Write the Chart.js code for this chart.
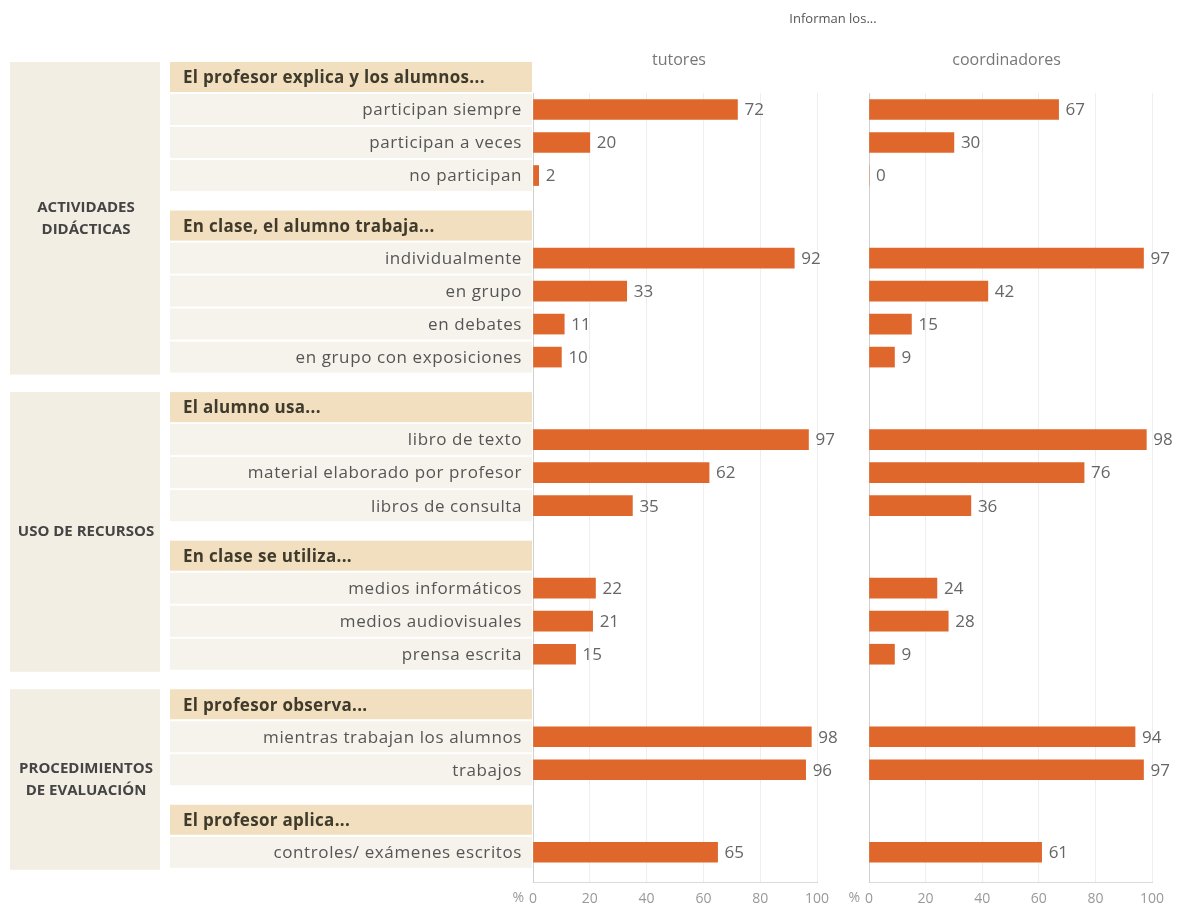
<!DOCTYPE html>
<html><head><meta charset="utf-8">
<script src="https://cdn.jsdelivr.net/npm/chart.js@4.4.1/dist/chart.umd.min.js"></script>
<style>
html,body{margin:0;padding:0;background:#fff;width:1179px;height:911px;overflow:hidden;font-family:'Open Sans',sans-serif}
#wa{position:absolute;left:0;top:0;width:845px;height:911px}
#wb{position:absolute;left:845px;top:0;width:334px;height:911px}
#title{position:absolute;left:733px;width:200px;top:9px;text-align:center;font-size:13px;color:#555}
</style></head><body>
<div id="wa"><canvas id="ca"></canvas></div>
<div id="wb"><canvas id="cb"></canvas></div>
<div id="title">Informan los...</div>
<script>
const sections = ['ACTIVIDADES\nDIDÁCTICAS', 'USO DE RECURSOS', 'PROCEDIMIENTOS\nDE EVALUACIÓN'];
const subheads = ['El profesor explica y los alumnos...', 'En clase, el alumno trabaja...', 'El alumno usa...', 'En clase se utiliza...', 'El profesor observa...', 'El profesor aplica...'];
const subheadSection = [0, 0, 1, 1, 2, 2];
const categories = ['participan siempre', 'participan a veces', 'no participan',
  'individualmente', 'en grupo', 'en debates', 'en grupo con exposiciones',
  'libro de texto', 'material elaborado por profesor', 'libros de consulta',
  'medios informáticos', 'medios audiovisuales', 'prensa escrita',
  'mientras trabajan los alumnos', 'trabajos',
  'controles/ exámenes escritos'];
const categoryGroup = [0, 0, 0, 1, 1, 1, 1, 2, 2, 2, 3, 3, 3, 4, 4, 5];
const tutores = [72, 20, 2, 92, 33, 11, 10, 97, 62, 35, 22, 21, 15, 98, 96, 65];
const coordinadores = [67, 30, 0, 97, 42, 15, 9, 98, 76, 36, 24, 28, 9, 94, 97, 61];
const panelTitles = ['tutores', 'coordinadores'];
const xTickStep = 20;
const xMin = 0, xMax = 100;

// derive row slots from the group structure (header, rows, half-slot gap)
const headerPos = [], rowPos = [];
let p = 0;
subheads.forEach((h, g) => {
  if (g > 0) p += 0.5;
  headerPos.push(p); p += 1;
  categories.forEach((c, i) => { if (categoryGroup[i] === g) { rowPos[i] = p; p += 1; } });
});
const yMin = headerPos[0] + 0.5;
const yMax = rowPos[rowPos.length - 1] + 0.9;

Chart.defaults.font.family = "'Open Sans', sans-serif";
const BAR = '#e0672b';

function valueLabels(values) {
  return {
    id: 'vl',
    afterDatasetsDraw(chart) {
      const ctx = chart.ctx;
      const meta = chart.getDatasetMeta(0);
      ctx.save();
      ctx.font = "17px 'Open Sans', sans-serif";
      ctx.fillStyle = '#666';
      ctx.textBaseline = 'middle';
      ctx.textAlign = 'left';
      meta.data.forEach((bar, i) => ctx.fillText(String(values[i]), bar.x + 7, bar.y + 1));
      ctx.restore();
    }
  };
}

function panelDecor(title, dx) {
  return {
    id: 'pd',
    afterDraw(chart) {
      const ctx = chart.ctx, a = chart.chartArea, xs = chart.scales.x;
      ctx.save();
      ctx.font = "16px 'Open Sans', sans-serif";
      ctx.fillStyle = '#777';
      ctx.textAlign = 'center';
      ctx.textBaseline = 'middle';
      ctx.fillText(title, (a.left + a.right) / 2 + dx, 60);
      ctx.font = "14px 'Open Sans', sans-serif";
      ctx.fillStyle = '#999';
      ctx.textAlign = 'right';
      ctx.textBaseline = 'top';
      ctx.fillText('%', a.left - 9, xs.top + 9);
      ctx.restore();
    }
  };
}

const leftPanel = {
  id: 'lp',
  beforeDraw(chart) {
    const ctx = chart.ctx, y = chart.scales.y;
    const px = v => y.getPixelForValue(v);
    const pitch = Math.abs(px(1) - px(0));
    ctx.save();
    // section boxes
    sections.forEach((s, si) => {
      const gs = subheadSection.map((x, g) => x === si ? g : -1).filter(g => g >= 0);
      const rows = categories.map((c, i) => gs.includes(categoryGroup[i]) ? rowPos[i] : null).filter(v => v !== null);
      const top = px(headerPos[gs[0]]) - pitch / 2 + 2;
      const bot = px(Math.max(...rows)) + pitch / 2 + 1;
      ctx.fillStyle = '#f2eee4';
      ctx.fillRect(10, top, 150, bot - top);
      ctx.fillStyle = '#444';
      ctx.font = "bold 15px 'Open Sans', sans-serif";
      ctx.textAlign = 'center';
      ctx.textBaseline = 'middle';
      const lines = s.split('\n');
      const cy = (top + bot) / 2;
      lines.forEach((ln, k) => ctx.fillText(ln, 86, cy + (k - (lines.length - 1) / 2) * 22));
    });
    // header bands
    subheads.forEach((h, g) => {
      const c = px(headerPos[g]);
      ctx.fillStyle = '#f2dfbf';
      ctx.fillRect(170, c - pitch / 2 + 2, 362, pitch - 3);
      ctx.fillStyle = '#3f3b2c';
      ctx.font = "bold 17px 'Open Sans', sans-serif";
      ctx.letterSpacing = '0.3px';
      ctx.textAlign = 'left';
      ctx.textBaseline = 'middle';
      ctx.fillText(h, 183, c + 2);
      ctx.letterSpacing = '0px';
    });
    // row bands + labels
    categories.forEach((cat, i) => {
      const c = px(rowPos[i]);
      ctx.fillStyle = '#f6f3ec';
      ctx.fillRect(170, c - pitch / 2 + 1, 362, pitch - 2);
      ctx.fillStyle = '#555';
      ctx.font = "17px 'Open Sans', sans-serif";
      ctx.letterSpacing = '0.6px';
      ctx.textAlign = 'right';
      ctx.textBaseline = 'middle';
      ctx.fillText(cat, 522, c + 1);
      ctx.letterSpacing = '0px';
    });
    ctx.restore();
  }
};

function makeChart(id, values, padLeft, padRight, plugins, title, dx) {
  return new Chart(document.getElementById(id), {
    type: 'bar',
    data: {
      datasets: [{
        data: values.map((v, i) => ({ x: v, y: rowPos[i] })),
        backgroundColor: BAR,
        borderWidth: 0,
        barThickness: 20
      }]
    },
    options: {
      indexAxis: 'y',
      responsive: true,
      maintainAspectRatio: false,
      animation: false,
      layout: { padding: { left: padLeft, right: padRight, top: 93, bottom: 0 } },
      plugins: { legend: { display: false }, tooltip: { enabled: false }, title: { display: false } },
      scales: {
        x: {
          type: 'linear', min: xMin, max: xMax, position: 'bottom',
          ticks: { stepSize: xTickStep, color: '#999', font: { size: 14 }, padding: 9 },
          grid: { color: '#eeeeee', drawTicks: false },
          border: { display: true, color: '#dadada' },
          afterFit: s => { s.height = 29; }
        },
        y: {
          type: 'linear', reverse: true, min: yMin, max: yMax, offset: false, bounds: 'data', grace: 0,
          ticks: { display: false },
          grid: { display: false, drawTicks: false, offset: false },
          border: { display: true, color: '#d0d0d0' },
          afterFit: s => { s.width = 0; }
        }
      }
    },
    plugins: plugins.concat([valueLabels(values), panelDecor(title, dx)])
  });
}

makeChart('ca', tutores, 533, 28, [leftPanel], panelTitles[0], 4);
makeChart('cb', coordinadores, 24, 27, [], panelTitles[1], -4);
</script>
</body></html>
